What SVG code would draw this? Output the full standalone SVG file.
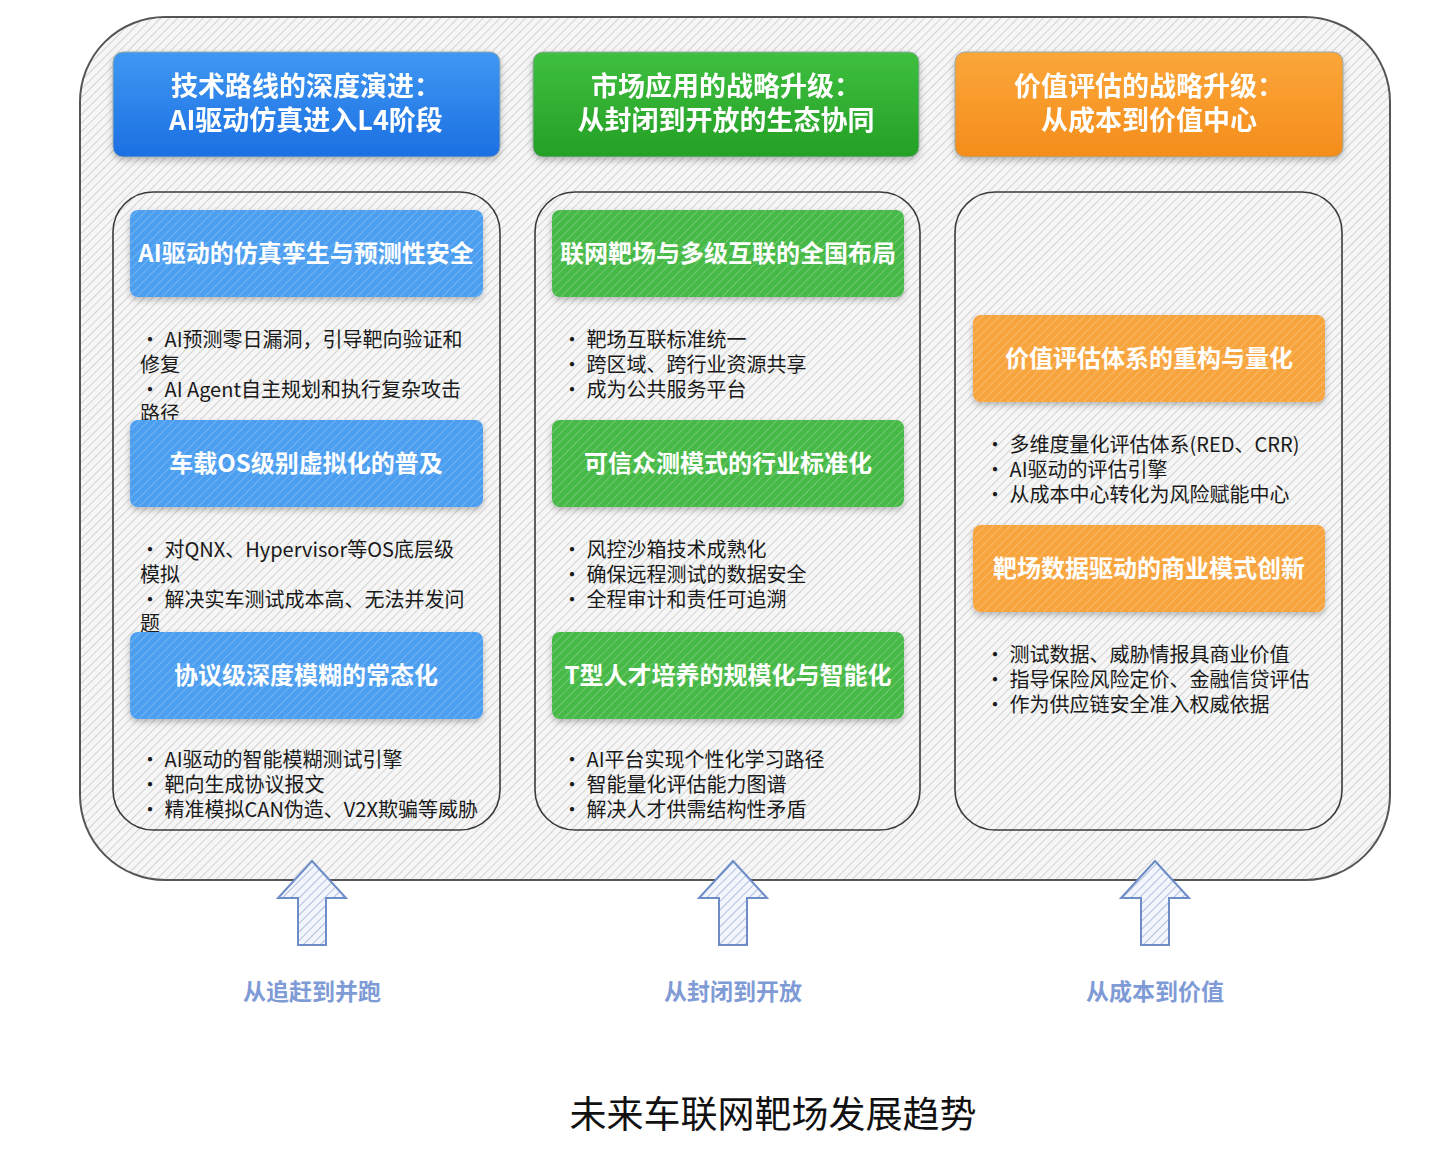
<svg xmlns="http://www.w3.org/2000/svg" width="1441" height="1164" viewBox="0 0 1441 1164">
<defs>
  <pattern id="hatch" width="6" height="6" patternUnits="userSpaceOnUse" patternTransform="rotate(45)">
    <rect width="6" height="6" fill="#f6f6f6"/>
    <line x1="0" y1="0" x2="0" y2="6" stroke="#c4c4c4" stroke-width="1.4"/>
  </pattern>
  <pattern id="hatchW" width="6" height="6" patternUnits="userSpaceOnUse" patternTransform="rotate(45)">
    <line x1="0" y1="0" x2="0" y2="6" stroke="#ffffff" stroke-opacity="0.28" stroke-width="1.6"/>
  </pattern>
  <pattern id="hatchA" width="6" height="6" patternUnits="userSpaceOnUse" patternTransform="rotate(45)">
    <rect width="6" height="6" fill="#f2f5fb"/>
    <line x1="0" y1="0" x2="0" y2="6" stroke="#8ea3cf" stroke-width="1.3"/>
  </pattern>
  <linearGradient id="gBlue" x1="0" y1="0" x2="0" y2="1">
    <stop offset="0" stop-color="#3f98f2"/>
    <stop offset="1" stop-color="#1c6fe2"/>
  </linearGradient>
  <linearGradient id="gGreen" x1="0" y1="0" x2="0" y2="1">
    <stop offset="0" stop-color="#3fbf3f"/>
    <stop offset="1" stop-color="#24a026"/>
  </linearGradient>
  <linearGradient id="gOrange" x1="0" y1="0" x2="0" y2="1">
    <stop offset="0" stop-color="#fba73a"/>
    <stop offset="1" stop-color="#f48d1c"/>
  </linearGradient>
  <filter id="sh" x="-10%" y="-20%" width="120%" height="150%">
    <feDropShadow dx="0" dy="3" stdDeviation="3" flood-color="#000" flood-opacity="0.25"/>
  </filter>
  <style>
    .outer{fill:url(#hatch);stroke:#555;stroke-width:2;}
    .col{fill:url(#hatch);stroke:#3a3a3a;stroke-width:1.6;}
    .hdr{stroke:#9aa;stroke-width:1;}
    .ht{font-family:"Noto Sans CJK SC","Noto Sans",sans-serif;font-size:27px;font-weight:bold;fill:#fff;text-anchor:middle;}
    .st{font-family:"Noto Sans CJK SC","Noto Sans",sans-serif;font-size:24px;font-weight:bold;fill:#fff;text-anchor:middle;}
    .bt{font-family:"Noto Sans CJK SC","Noto Sans",sans-serif;font-size:20px;fill:#1a1a1a;}
    .blue{fill:#4b9ef0;}
    .green{fill:#46b946;}
    .orange{fill:#f8a43c;}
    .hw{fill:url(#hatchW);}
    .arr{fill:url(#hatchA);stroke:#6d8cc8;stroke-width:2;stroke-linejoin:miter;}
    .al{font-family:"Noto Sans CJK SC","Noto Sans",sans-serif;font-size:23px;font-weight:bold;fill:#7f9bd6;text-anchor:middle;}
    .cap{font-family:"Noto Sans CJK SC","Noto Sans",sans-serif;font-size:37px;fill:#111;text-anchor:middle;}
  </style>
</defs>
<rect width="1441" height="1164" fill="#ffffff"/>

<g id="container">
  <rect class="outer" x="80" y="17" width="1310" height="863" rx="85" ry="85"/>
</g>

<g id="header-tech" filter="url(#sh)">
  <rect class="hdr" x="113" y="52" width="387" height="105" rx="10" fill="url(#gBlue)"/>
  <text class="ht" x="306" y="96">技术路线的深度演进：</text>
  <text class="ht" x="306" y="130">AI驱动仿真进入L4阶段</text>
</g>
<g id="header-market" filter="url(#sh)">
  <rect class="hdr" x="533" y="52" width="386" height="105" rx="10" fill="url(#gGreen)"/>
  <text class="ht" x="726" y="96">市场应用的战略升级：</text>
  <text class="ht" x="726" y="130">从封闭到开放的生态协同</text>
</g>
<g id="header-value" filter="url(#sh)">
  <rect class="hdr" x="955" y="52" width="388" height="105" rx="10" fill="url(#gOrange)"/>
  <text class="ht" x="1149" y="96">价值评估的战略升级：</text>
  <text class="ht" x="1149" y="130">从成本到价值中心</text>
</g>

<g id="col-tech">
  <rect class="col" x="113" y="192" width="387" height="638" rx="40" ry="40"/>
</g>
<g id="col-market">
  <rect class="col" x="535" y="192" width="385" height="638" rx="40" ry="40"/>
</g>
<g id="col-value">
  <rect class="col" x="955" y="192" width="387" height="638" rx="40" ry="40"/>
</g>

<g id="sub-tech-1">
  <g filter="url(#sh)"><rect class="blue" x="130" y="210" width="353" height="87" rx="8"/></g>
  <rect class="hw" x="130" y="210" width="353" height="87" rx="8"/>
  <text class="st" x="306" y="262">AI驱动的仿真孪生与预测性安全</text>
  <text class="bt" x="140" y="347">• AI预测零日漏洞，引导靶向验证和</text>
  <text class="bt" x="140" y="372">修复</text>
  <text class="bt" x="140" y="397">• AI Agent自主规划和执行复杂攻击</text>
  <text class="bt" x="140" y="421">路径</text>
</g>
<g id="sub-tech-2">
  <g filter="url(#sh)"><rect class="blue" x="130" y="420" width="353" height="87" rx="8"/></g>
  <rect class="hw" x="130" y="420" width="353" height="87" rx="8"/>
  <text class="st" x="306" y="472">车载OS级别虚拟化的普及</text>
  <text class="bt" x="140" y="557">• 对QNX、Hypervisor等OS底层级</text>
  <text class="bt" x="140" y="582">模拟</text>
  <text class="bt" x="140" y="607">• 解决实车测试成本高、无法并发问</text>
  <text class="bt" x="140" y="631">题</text>
</g>
<g id="sub-tech-3">
  <g filter="url(#sh)"><rect class="blue" x="130" y="632" width="353" height="87" rx="8"/></g>
  <rect class="hw" x="130" y="632" width="353" height="87" rx="8"/>
  <text class="st" x="306" y="684">协议级深度模糊的常态化</text>
  <text class="bt" x="140" y="767">• AI驱动的智能模糊测试引擎</text>
  <text class="bt" x="140" y="792">• 靶向生成协议报文</text>
  <text class="bt" x="140" y="817">• 精准模拟CAN伪造、V2X欺骗等威胁</text>
</g>

<g id="sub-market-1">
  <g filter="url(#sh)"><rect class="green" x="552" y="210" width="352" height="87" rx="8"/></g>
  <rect class="hw" x="552" y="210" width="352" height="87" rx="8"/>
  <text class="st" x="728" y="262">联网靶场与多级互联的全国布局</text>
  <text class="bt" x="562" y="347">• 靶场互联标准统一</text>
  <text class="bt" x="562" y="372">• 跨区域、跨行业资源共享</text>
  <text class="bt" x="562" y="397">• 成为公共服务平台</text>
</g>
<g id="sub-market-2">
  <g filter="url(#sh)"><rect class="green" x="552" y="420" width="352" height="87" rx="8"/></g>
  <rect class="hw" x="552" y="420" width="352" height="87" rx="8"/>
  <text class="st" x="728" y="472">可信众测模式的行业标准化</text>
  <text class="bt" x="562" y="557">• 风控沙箱技术成熟化</text>
  <text class="bt" x="562" y="582">• 确保远程测试的数据安全</text>
  <text class="bt" x="562" y="607">• 全程审计和责任可追溯</text>
</g>
<g id="sub-market-3">
  <g filter="url(#sh)"><rect class="green" x="552" y="632" width="352" height="87" rx="8"/></g>
  <rect class="hw" x="552" y="632" width="352" height="87" rx="8"/>
  <text class="st" x="728" y="684">T型人才培养的规模化与智能化</text>
  <text class="bt" x="562" y="767">• AI平台实现个性化学习路径</text>
  <text class="bt" x="562" y="792">• 智能量化评估能力图谱</text>
  <text class="bt" x="562" y="817">• 解决人才供需结构性矛盾</text>
</g>

<g id="sub-value-1">
  <g filter="url(#sh)"><rect class="orange" x="973" y="315" width="352" height="87" rx="8"/></g>
  <rect class="hw" x="973" y="315" width="352" height="87" rx="8"/>
  <text class="st" x="1149" y="367">价值评估体系的重构与量化</text>
  <text class="bt" x="985" y="452">• 多维度量化评估体系(RED、CRR)</text>
  <text class="bt" x="985" y="477">• AI驱动的评估引擎</text>
  <text class="bt" x="985" y="502">• 从成本中心转化为风险赋能中心</text>
</g>
<g id="sub-value-2">
  <g filter="url(#sh)"><rect class="orange" x="973" y="525" width="352" height="87" rx="8"/></g>
  <rect class="hw" x="973" y="525" width="352" height="87" rx="8"/>
  <text class="st" x="1149" y="577">靶场数据驱动的商业模式创新</text>
  <text class="bt" x="985" y="662">• 测试数据、威胁情报具商业价值</text>
  <text class="bt" x="985" y="687">• 指导保险风险定价、金融信贷评估</text>
  <text class="bt" x="985" y="712">• 作为供应链安全准入权威依据</text>
</g>

<g id="connectors">
  <path class="arr" d="M312,861 L346,898 L326,898 L326,945 L298,945 L298,898 L278,898 Z"/>
  <path class="arr" d="M733,861 L767,898 L747,898 L747,945 L719,945 L719,898 L699,898 Z"/>
  <path class="arr" d="M1155,861 L1189,898 L1169,898 L1169,945 L1141,945 L1141,898 L1121,898 Z"/>
</g>

<g id="label-1"><text class="al" x="312" y="1000">从追赶到并跑</text></g>
<g id="label-2"><text class="al" x="733" y="1000">从封闭到开放</text></g>
<g id="label-3"><text class="al" x="1155" y="1000">从成本到价值</text></g>

<g id="caption"><text class="cap" x="773" y="1128">未来车联网靶场发展趋势</text></g>
</svg>
